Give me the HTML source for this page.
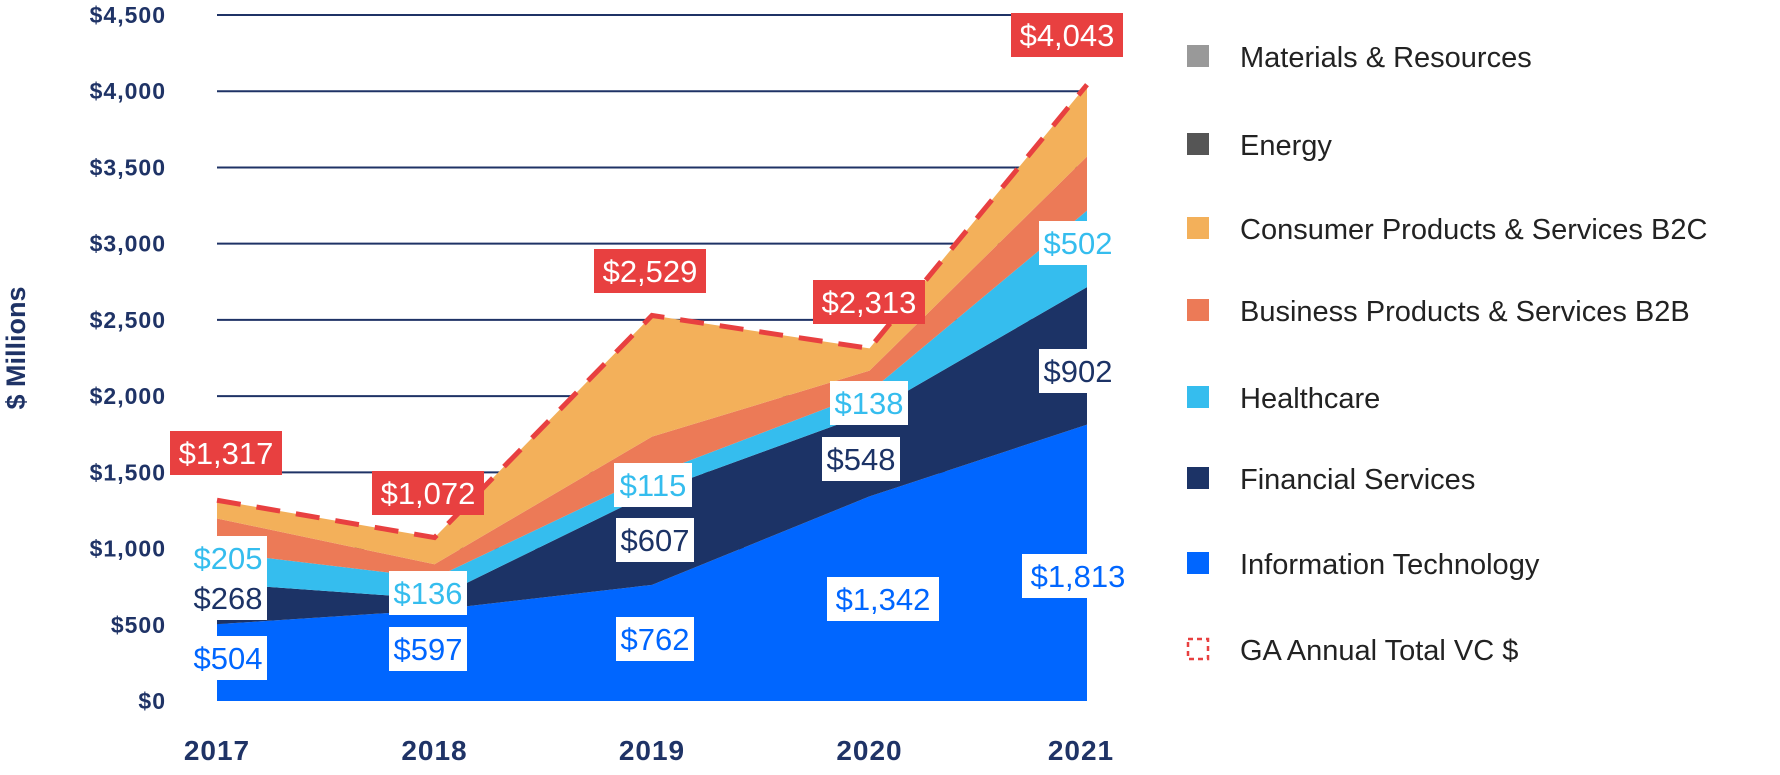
<!DOCTYPE html>
<html><head><meta charset="utf-8"><style>
html,body{margin:0;padding:0;background:#fff;}
svg{display:block;font-family:"Liberation Sans",sans-serif;}
</style></head><body>
<svg id="chart" width="1780" height="775" viewBox="0 0 1780 775" xmlns="http://www.w3.org/2000/svg">
<g id="grid"></g>
<g id="yaxis"></g>
<text transform="translate(25,348) rotate(-90)" text-anchor="middle" font-size="27" font-weight="bold" fill="#1f3366">$ Millions</text>
<g id="areas"></g>
<g id="xaxis"></g>
<g id="labels"></g>
<g id="legend"></g>
</svg>
<script>
const years = ["2017","2018","2019","2020","2021"];
const itValues = [504, 597, 762, 1342, 1813];
const finValues = [268, 74, 607, 548, 902];
const hcValues = [205, 136, 115, 138, 502];
const b2bValues = [220, 90, 250, 139, 355];
const b2cValues = [120, 175, 795, 146, 471];
const energyValues = [0, 0, 0, 0, 0];
const materialsValues = [0, 0, 0, 0, 0];
const totalValues = [1317, 1072, 2529, 2313, 4043];
const yTicks = [0,500,1000,1500,2000,2500,3000,3500,4000,4500];
const yTickLabels = ["$0","$500","$1,000","$1,500","$2,000","$2,500","$3,000","$3,500","$4,000","$4,500"];

const NS="http://www.w3.org/2000/svg";
const x0=217, xStep=217.5, yBase=701, yTop=15, yMax=4500;
const X=i=>x0+i*xStep;
const Y=v=>yBase-(v/yMax)*(yBase-yTop);
function mk(tag,attrs,parent){const e=document.createElementNS(NS,tag);for(const k in attrs)e.setAttribute(k,attrs[k]);parent.appendChild(e);return e;}

const grid=document.getElementById('grid'), yax=document.getElementById('yaxis');
yTicks.forEach((t,i)=>{
  if(t>0){const l=mk('line',{x1:x0,x2:X(4),y1:Y(t),y2:Y(t),stroke:'#1f3366','stroke-width':2},grid);
  
  }
  const tx=mk('text',{x:166,y:Y(t)+8,'text-anchor':'end','font-size':23,'font-weight':'bold',fill:'#1f3366','letter-spacing':'1'},yax);
  
  
  tx.textContent=yTickLabels[i];
});

const series=[
 {n:'it',v:itValues,c:'#0066ff'},
 {n:'fin',v:finValues,c:'#1c3366'},
 {n:'hc',v:hcValues,c:'#35bdee'},
 {n:'b2b',v:b2bValues,c:'#ec7a57'},
 {n:'b2c',v:b2cValues,c:'#f3b05a'},
 {n:'energy',v:energyValues,c:'#555555'},
 {n:'materials',v:materialsValues,c:'#999999'}];
const areas=document.getElementById('areas');
let cum=years.map(()=>0);
series.forEach(s=>{
  const lower=cum.slice(); cum=cum.map((c,i)=>c+s.v[i]);
  let d='M'+years.map((_,i)=>X(i)+','+Y(cum[i])).join(' L');
  for(let i=years.length-1;i>=0;i--) d+=' L'+X(i)+','+Y(lower[i]);
  const p=mk('path',{d:d+'Z',fill:s.c},areas);
  
  
});
const tl=mk('polyline',{points:totalValues.map((v,i)=>X(i)+','+Y(v)).join(' '),fill:'none',stroke:'#e84040','stroke-width':5,'stroke-dasharray':'24 16'},areas);



const xax=document.getElementById('xaxis');
years.forEach((y,i)=>{const t=mk('text',{x:X(i)+(i==4?-6:0),y:760,'text-anchor':'middle','font-size':28,'font-weight':'bold',fill:'#1f3366','letter-spacing':'1'},xax);
 
 
 t.textContent=y;});

// label layout (positions only)
const labelLayout=[
 [totalValues,'#fff','#e84040',[[226,453],[428,493],[650,271],[869,302],[1067,35]]],
 [hcValues,'#35bdee','#fff',[[228,558],[428,593],[653,485],[869,403],[1078,243]]],
 [finValues,'#1c3366','#fff',[[228,598],null,[655,540],[861,459],[1078,371]]],
 [itValues,'#0066ff','#fff',[[228,658],[428,649],[655,639],[883,599],[1078,576]]]];
const lg=document.getElementById('labels');
const fmt=v=>'$'+v.toLocaleString('en-US');
labelLayout.forEach(([vals,fg,bg,pos])=>{
  vals.forEach((v,i)=>{ if(!pos[i])return;
    const [cx,cy]=pos[i]; const txt=fmt(v); const w=txt.length*17+10;
    const r=mk('rect',{x:cx-w/2,y:cy-22,width:w,height:44,fill:bg},lg);
    
    
    const t=mk('text',{x:cx,y:cy+11,'text-anchor':'middle','font-size':31,fill:fg},lg);
    
    
    t.textContent=txt;});
});

const legendItems=[["Materials & Resources","#999999"],["Energy","#555555"],["Consumer Products & Services B2C","#f3b05a"],["Business Products & Services B2B","#ec7a57"],["Healthcare","#35bdee"],["Financial Services","#1c3366"],["Information Technology","#0066ff"],["GA Annual Total VC $",null]];
const legY=[57,145,229,311,398,479,564,650];
const leg=document.getElementById('legend');
legendItems.forEach(([name,c],i)=>{
  const y=legY[i];
  const r=c?mk('rect',{x:1187,y:y-12,width:22,height:22,fill:c},leg):mk('rect',{x:1188,y:y-11,width:20,height:20,fill:'none',stroke:'#e84040','stroke-width':2.5,'stroke-dasharray':'5 4'},leg);
  
  
  const t=mk('text',{x:1240,y:y+10,'font-size':29,fill:'#222'},leg);
  
  
  t.textContent=name;
});
</script>
</body></html>
